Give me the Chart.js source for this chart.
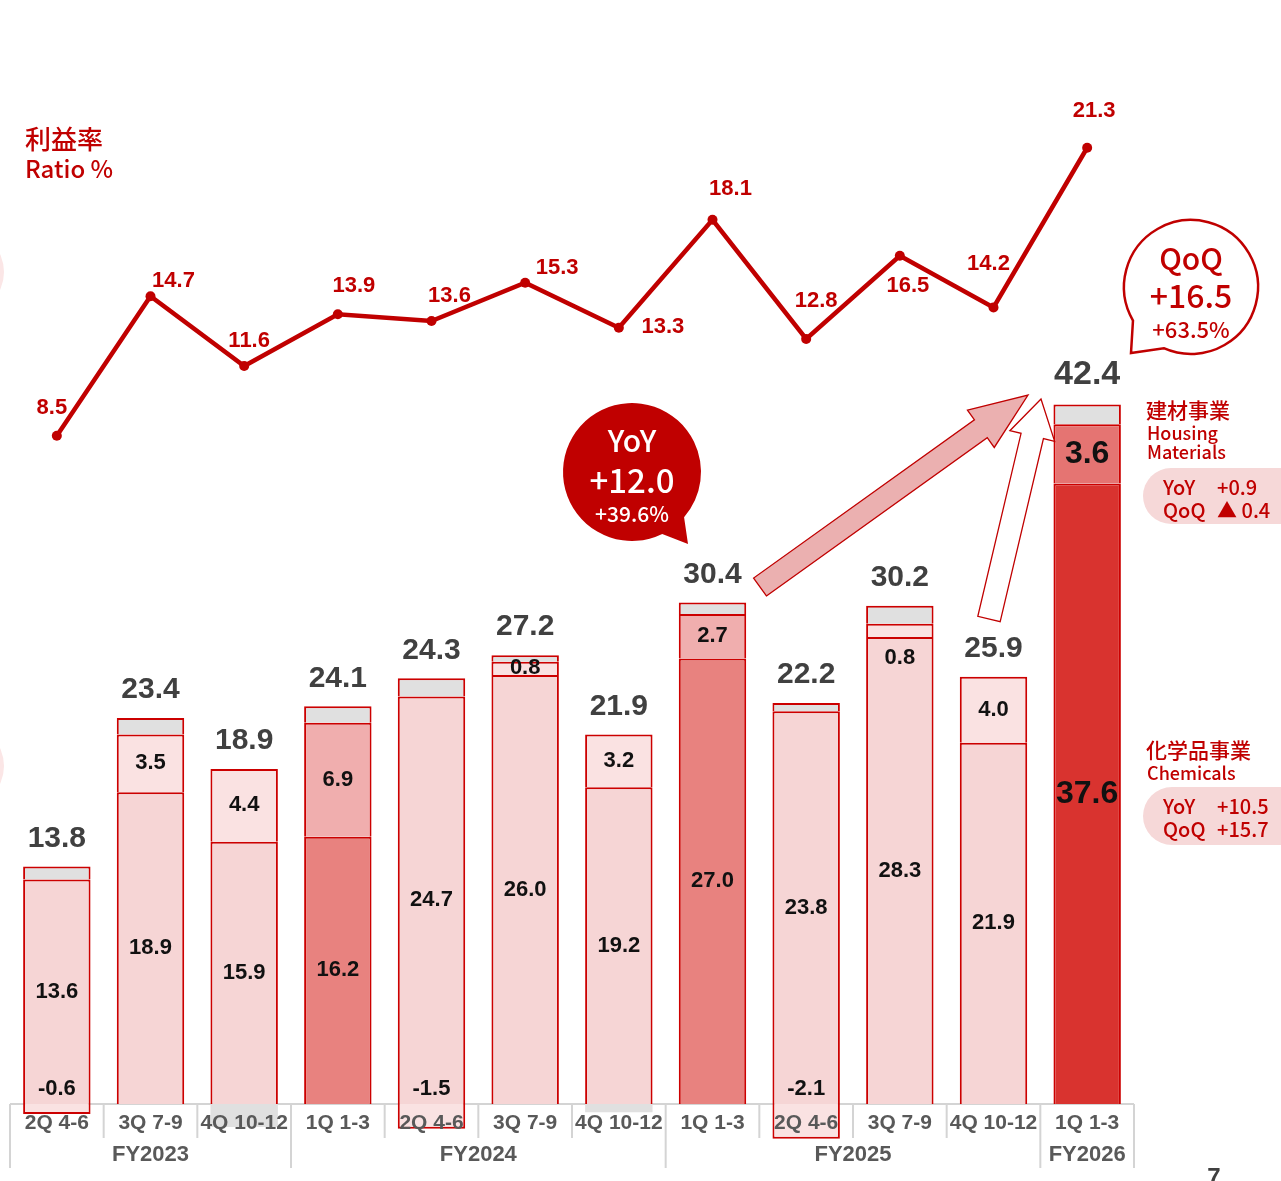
<!DOCTYPE html>
<html>
<head>
<meta charset="utf-8">
<script src="https://cdn.jsdelivr.net/npm/chart.js@4.4.1/dist/chart.umd.min.js"></script>
<style>
  html, body { margin: 0; padding: 0; background: #fff; }
</style>
</head>
<body>
<canvas id="chartCanvas" width="1281" height="1181"></canvas>
<script>
// quarterly operating profit by segment (bars) and profit ratio (line)
const quarters = ['2Q 4-6', '3Q 7-9', '4Q 10-12', '1Q 1-3', '2Q 4-6', '3Q 7-9', '4Q 10-12', '1Q 1-3', '2Q 4-6', '3Q 7-9', '4Q 10-12', '1Q 1-3'];
const fiscalYears = ['FY2023', 'FY2024', 'FY2025', 'FY2026'];
const yearSpans = [[0, 2], [3, 6], [7, 10], [11, 11]];
const chemicals = [13.6, 18.9, 15.9, 16.2, 24.7, 26.0, 19.2, 27.0, 23.8, 28.3, 21.9, 37.6];
const housing = [-0.6, 3.5, 4.4, 6.9, -1.5, 0.8, 3.2, 2.7, -2.1, 0.8, 4.0, 3.6];
const other = [0.8, 1.0, -1.4, 1.0, 1.1, 0.4, -0.5, 0.7, 0.5, 1.1, 0.0, 1.2];
const totals = [13.8, 23.4, 18.9, 24.1, 24.3, 27.2, 21.9, 30.4, 22.2, 30.2, 25.9, 42.4];
const ratio = [8.5, 14.7, 11.6, 13.9, 13.6, 15.3, 13.3, 18.1, 12.8, 16.5, 14.2, 21.3];

// label placement (pixels) for the ratio line
const ratioLabelOffset = [[-5, -28], [23, -15], [5, -25], [16, -28], [18, -25], [32, -15], [44, -1], [18, -31], [10, -38], [8, 30], [-5, -44], [7, -37]];
const housingLabelShift = [0, 0, 0, 0, 0, 0, 0, 0, 0, 27, 0, 0];

const RED = '#c00000';
const EDGE = '#cc0000';
const NUM_FONT = '"Liberation Sans", Arial, sans-serif';
const JP_FONT = '"Noto Sans CJK JP", "Noto Sans", sans-serif';

function chemColor(i) {
    if (i === 11) return '#d9332f';
    if (i === 3 || i === 7) return '#e8827f';
    return '#f6d5d5';
}
function housingColor(i) {
    if (i === 11) return '#e57472';
    if (i === 3 || i === 7) return '#f0aeae';
    return '#fae2e2';
}

function bubble(ctx, cx, cy, r, a1, a2, tip, fill, stroke) {
    ctx.beginPath();
    ctx.arc(cx, cy, r, a1 * Math.PI / 180, a2 * Math.PI / 180);
    ctx.lineTo(tip[0], tip[1]);
    ctx.closePath();
    ctx.fillStyle = fill;
    ctx.fill();
    if (stroke) {
        ctx.strokeStyle = stroke;
        ctx.lineWidth = 2.5;
        ctx.stroke();
    }
}

function blockArrow(ctx, x0, y0, x1, y1, sw, hw, hl, fill) {
    const dx = x1 - x0, dy = y1 - y0;
    const len = Math.hypot(dx, dy);
    const ux = dx / len, uy = dy / len;
    const nx = -uy, ny = ux;
    const bx = x1 - ux * hl, by = y1 - uy * hl;
    const pts = [
        [x0 + nx * sw, y0 + ny * sw],
        [bx + nx * sw, by + ny * sw],
        [bx + nx * hw, by + ny * hw],
        [x1, y1],
        [bx - nx * hw, by - ny * hw],
        [bx - nx * sw, by - ny * sw],
        [x0 - nx * sw, y0 - ny * sw]
    ];
    ctx.beginPath();
    pts.forEach((p, k) => k ? ctx.lineTo(p[0], p[1]) : ctx.moveTo(p[0], p[1]));
    ctx.closePath();
    ctx.fillStyle = fill;
    ctx.fill();
    ctx.strokeStyle = RED;
    ctx.lineWidth = 1.3;
    ctx.stroke();
}

function pill(ctx, x, y, w, h, lines) {
    const r = h / 2;
    ctx.beginPath();
    ctx.moveTo(x + r, y);
    ctx.lineTo(x + w, y);
    ctx.lineTo(x + w, y + h);
    ctx.lineTo(x + r, y + h);
    ctx.arc(x + r, y + r, r, Math.PI / 2, Math.PI * 1.5);
    ctx.closePath();
    ctx.fillStyle = '#f6d8d8';
    ctx.fill();
    ctx.fillStyle = RED;
    ctx.font = '500 20px ' + JP_FONT;
    ctx.textAlign = 'left';
    lines.forEach((ln, k) => {
        ctx.fillText(ln[0], x + 20, y + 19 + k * 23);
        ctx.fillText(ln[1], x + 74, y + 19 + k * 23);
    });
}

// axis table under the bars
const tablePlugin = {
    id: 'table',
    beforeDatasetsDraw(chart) {
        const ctx = chart.ctx;
        const area = chart.chartArea;
        const step = (area.right - area.left) / quarters.length;
        const base = area.bottom;
        ctx.save();
        ctx.strokeStyle = '#d4d4d4';
        ctx.lineWidth = 2;
        ctx.beginPath();
        ctx.moveTo(area.left, base);
        ctx.lineTo(area.right, base);
        for (let i = 0; i <= quarters.length; i++) {
            const px = area.left + i * step;
            const long = i === 0 || i === quarters.length || yearSpans.some(s => s[0] === i);
            ctx.moveTo(px, base);
            ctx.lineTo(px, base + (long ? 64 : 34));
        }
        ctx.stroke();
        ctx.restore();
    },
    afterDatasetsDraw(chart) {
        const ctx = chart.ctx;
        const x = chart.scales.x;
        const area = chart.chartArea;
        const step = (area.right - area.left) / quarters.length;
        ctx.save();
        ctx.fillStyle = '#595959';
        ctx.textAlign = 'center';
        ctx.textBaseline = 'middle';
        ctx.font = 'bold 21px ' + NUM_FONT;
        quarters.forEach((q, i) => ctx.fillText(q, x.getPixelForValue(i), area.bottom + 19));
        ctx.font = 'bold 22px ' + NUM_FONT;
        yearSpans.forEach((s, k) => {
            const mid = area.left + (s[0] + s[1] + 1) / 2 * step;
            ctx.fillText(fiscalYears[k], mid, area.bottom + 51);
        });
        ctx.restore();
    }
};

// values on bars, totals, ratio labels
const labelPlugin = {
    id: 'labels',
    afterDatasetsDraw(chart) {
        const ctx = chart.ctx;
        const x = chart.scales.x, y = chart.scales.y, y2 = chart.scales.y2;
        ctx.save();
        ctx.textAlign = 'center';
        ctx.textBaseline = 'middle';
        quarters.forEach((q, i) => {
            const cx = x.getPixelForValue(i);
            const big = i === 11;
            ctx.fillStyle = '#111';
            ctx.font = 'bold ' + (big ? 32 : 22) + 'px ' + NUM_FONT;
            // chemicals
            ctx.fillText(chemicals[i].toFixed(1), cx, (y.getPixelForValue(0) + y.getPixelForValue(chemicals[i])) / 2);
            // housing
            let hy;
            if (housing[i] < 0) {
                hy = y.getPixelForValue(0) - 15;
            } else {
                hy = (y.getPixelForValue(chemicals[i]) + y.getPixelForValue(chemicals[i] + housing[i])) / 2 + housingLabelShift[i];
            }
            ctx.fillText(housing[i].toFixed(1), cx, hy);
            // total
            const top = chemicals[i] + Math.max(housing[i], 0) + Math.max(other[i], 0);
            ctx.fillStyle = '#404040';
            ctx.font = 'bold ' + (big ? 34 : 30) + 'px ' + NUM_FONT;
            ctx.fillText(totals[i].toFixed(1), cx, y.getPixelForValue(top) - (big ? 30 : 28));
            // ratio
            ctx.fillStyle = RED;
            ctx.font = 'bold 22px ' + NUM_FONT;
            ctx.fillText(ratio[i].toFixed(1), cx + ratioLabelOffset[i][0], y2.getPixelForValue(ratio[i]) + ratioLabelOffset[i][1]);
        });
        ctx.restore();
    },
    afterDraw(chart) {
        const ctx = chart.ctx;
        ctx.save();
        // faint circles cut by the left edge
        ctx.fillStyle = '#fbe6e6';
        ctx.beginPath(); ctx.arc(-38, 272, 42, 0, Math.PI * 2); ctx.fill();
        ctx.beginPath(); ctx.arc(-38, 766, 42, 0, Math.PI * 2); ctx.fill();

        ctx.textBaseline = 'middle';
        ctx.textAlign = 'left';
        ctx.fillStyle = RED;
        ctx.font = '500 26px ' + JP_FONT;
        ctx.fillText('利益率', 25, 139);
        ctx.font = '500 24px ' + JP_FONT;
        ctx.fillText('Ratio %', 25, 169);

        // arrows
        blockArrow(ctx, 760, 587, 1028, 395, 11, 23, 58, '#ebb0b0');
        blockArrow(ctx, 989, 619, 1041, 399, 11.5, 23, 38, '#ffffff');

        // YoY bubble
        bubble(ctx, 632, 472, 69, 64, 401, [688, 544], RED, null);
        ctx.fillStyle = '#fff';
        ctx.textAlign = 'center';
        ctx.font = '500 30px ' + JP_FONT;
        ctx.fillText('YoY', 632, 441);
        ctx.font = '500 33px ' + JP_FONT;
        ctx.fillText('+12.0', 632, 480);
        ctx.font = '500 21px ' + JP_FONT;
        ctx.fillText('+39.6%', 632, 514);

        // QoQ bubble
        bubble(ctx, 1191, 287, 67, 150, 474, [1131, 353], '#fff', RED);
        ctx.fillStyle = RED;
        ctx.font = '500 30px ' + JP_FONT;
        ctx.fillText('QoQ', 1191, 259);
        ctx.font = '500 32px ' + JP_FONT;
        ctx.fillText('+16.5', 1191, 296);
        ctx.font = '500 22px ' + JP_FONT;
        ctx.fillText('+63.5%', 1191, 330);

        // segment notes
        ctx.textAlign = 'left';
        ctx.font = '500 21px ' + JP_FONT;
        ctx.fillText('建材事業', 1146, 410);
        ctx.font = '500 18px ' + JP_FONT;
        ctx.fillText('Housing', 1147, 433);
        ctx.fillText('Materials', 1147, 452);
        pill(ctx, 1143, 468, 145, 56, [['YoY', '+0.9'], ['QoQ', '▲ 0.4']]);

        ctx.fillStyle = RED;
        ctx.font = '500 21px ' + JP_FONT;
        ctx.fillText('化学品事業', 1146, 750);
        ctx.font = '500 18px ' + JP_FONT;
        ctx.fillText('Chemicals', 1147, 773);
        pill(ctx, 1143, 787, 145, 58, [['YoY', '+10.5'], ['QoQ', '+15.7']]);

        // page number
        ctx.fillStyle = '#404040';
        ctx.textAlign = 'center';
        ctx.font = 'bold 24px ' + NUM_FONT;
        ctx.fillText('7', 1214, 1178);
        ctx.restore();
    }
};

const ctx = document.getElementById('chartCanvas').getContext('2d');
const barBase = {
    type: 'bar',
    yAxisID: 'y',
    borderColor: EDGE,
    borderWidth: 2,
    borderSkipped: 'start',
    barPercentage: 0.72,
    categoryPercentage: 1,
    clip: false,
    order: 1
};

new Chart(ctx, {
    data: {
        labels: quarters,
        datasets: [
            {
                type: 'line',
                label: 'Ratio %',
                data: ratio,
                yAxisID: 'y2',
                borderColor: RED,
                borderWidth: 4.5,
                pointRadius: 5,
                pointBackgroundColor: RED,
                pointBorderWidth: 0,
                tension: 0,
                clip: false,
                order: 0
            },
            Object.assign({}, barBase, { label: 'Chemicals', data: chemicals, backgroundColor: quarters.map((q, i) => chemColor(i)) }),
            Object.assign({}, barBase, { label: 'Housing Materials', data: housing, backgroundColor: quarters.map((q, i) => housingColor(i)) }),
            Object.assign({}, barBase, {
                label: 'Other', data: other, backgroundColor: '#e0e0e0',
                borderWidth: c => (other[c.dataIndex] < 0 ? 0 : 2)
            })
        ]
    },
    options: {
        responsive: false,
        animation: false,
        devicePixelRatio: 1,
        layout: { padding: { left: 10, right: 147, top: 114, bottom: 77 } },
        scales: {
            x: { display: false, stacked: true, offset: true },
            y: { display: false, stacked: true, min: 0, max: 60 },
            y2: { display: false, min: -21.2, max: 22.8 }
        },
        plugins: {
            legend: { display: false },
            tooltip: { enabled: false }
        }
    },
    plugins: [tablePlugin, labelPlugin]
});
</script>
</body>
</html>
